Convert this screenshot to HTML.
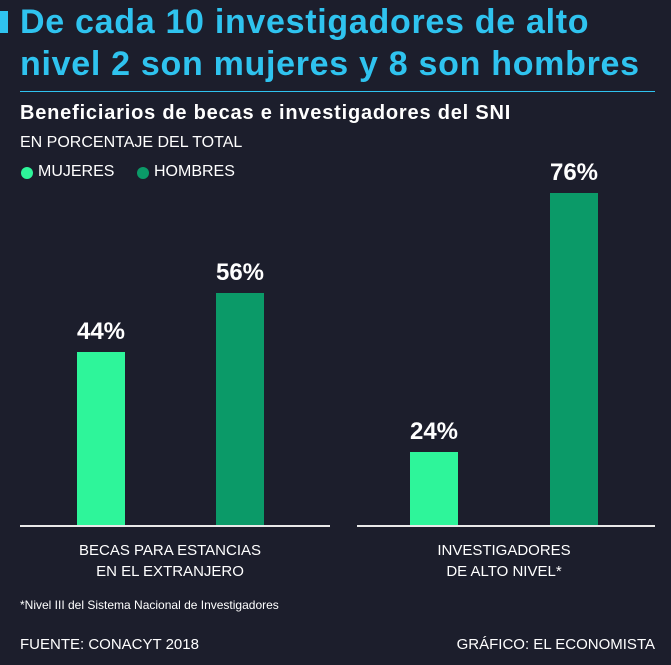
<!DOCTYPE html>
<html><head><meta charset="utf-8"><style>
body{margin:0;width:671px;height:665px;background:#1c1e2c;font-family:"Liberation Sans",sans-serif;position:relative;overflow:hidden;color:#fff}
.a{position:absolute;white-space:nowrap}
.t{color:#2fc3ef;font-weight:bold;font-size:34px;letter-spacing:0.7px;left:20px;line-height:40px}
.bar{position:absolute;width:48px}
.l{background:#2ef59a}.d{background:#0b9a68}
.v{position:absolute;font-weight:bold;font-size:24px;width:100px;text-align:center}
.cat{position:absolute;font-size:15px;text-align:center;line-height:21px;width:300px}
</style></head><body>
<div class="a" style="left:0;top:11px;width:8px;height:22px;background:#2fc3ef"></div>
<div class="a t" style="top:2px">De cada 10 investigadores de alto</div>
<div class="a t" style="top:44px">nivel 2 son mujeres y 8 son hombres</div>
<div class="a" style="left:20px;top:91px;width:635px;height:1px;background:#2fc3ef"></div>
<div class="a" style="left:20px;top:102px;font-size:20px;font-weight:bold;letter-spacing:0.8px">Beneficiarios de becas e investigadores del SNI</div>
<div class="a" style="left:20px;top:134px;font-size:16px">EN PORCENTAJE DEL TOTAL</div>
<div class="a" style="left:21px;top:167px;width:12px;height:12px;border-radius:50%;background:#2ef59a"></div>
<div class="a" style="left:38px;top:163px;font-size:16px">MUJERES</div>
<div class="a" style="left:137px;top:167px;width:12px;height:12px;border-radius:50%;background:#0b9a68"></div>
<div class="a" style="left:154px;top:163px;font-size:16px">HOMBRES</div>
<div class="bar l" style="left:77px;top:352px;height:174px"></div>
<div class="bar d" style="left:216px;top:293px;height:233px"></div>
<div class="bar l" style="left:410px;top:452px;height:74px"></div>
<div class="bar d" style="left:550px;top:193px;height:333px"></div>
<div class="v" style="left:51px;top:318px">44%</div>
<div class="v" style="left:190px;top:259px">56%</div>
<div class="v" style="left:384px;top:418px">24%</div>
<div class="v" style="left:524px;top:159px">76%</div>
<div class="a" style="left:20px;top:525px;width:310px;height:2px;background:#e8e8e8"></div>
<div class="a" style="left:357px;top:525px;width:298px;height:2px;background:#e8e8e8"></div>
<div class="cat" style="left:20px;top:540px">BECAS PARA ESTANCIAS<br>EN EL EXTRANJERO</div>
<div class="cat" style="left:354px;top:540px">INVESTIGADORES<br>DE ALTO NIVEL*</div>
<div class="a" style="left:20px;top:598px;font-size:12px">*Nivel III del Sistema Nacional de Investigadores</div>
<div class="a" style="left:20px;top:636px;font-size:15px">FUENTE: CONACYT 2018</div>
<div class="a" style="right:16px;top:636px;font-size:15px">GRÁFICO: EL ECONOMISTA</div>
</body></html>
